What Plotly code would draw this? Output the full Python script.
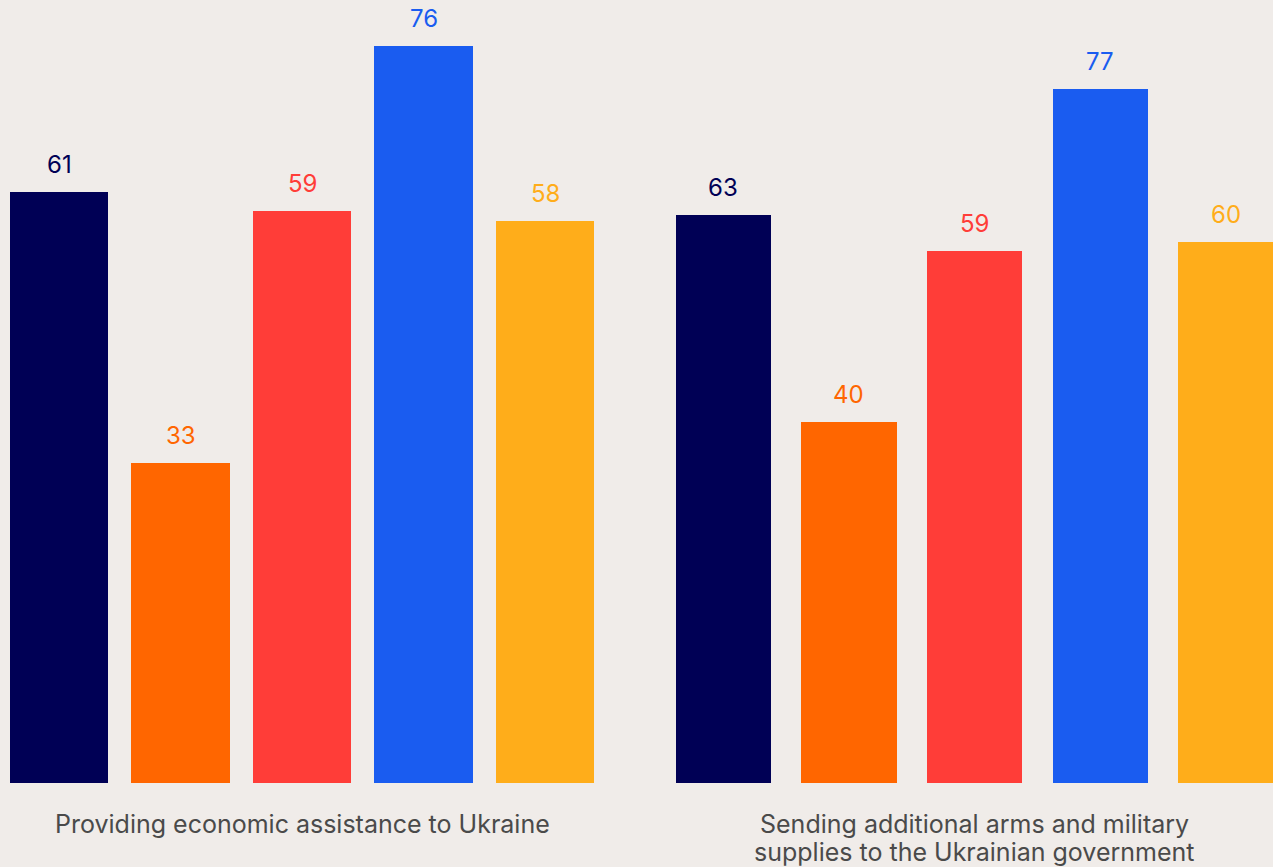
import plotly.graph_objects as go

# Share of respondents supporting each policy, by group
groups = ["Group A", "Group B", "Group C", "Group D", "Group E"]
economic_aid = [61, 33, 59, 76, 58]
military_aid = [63, 40, 59, 77, 60]
bar_colors = ["#000055", "#FF6600", "#FF3D38", "#1A5CF0", "#FFAD1A"]
panel_titles = [
    ["Providing economic assistance to Ukraine"],
    ["Sending additional arms and military",
     "supplies to the Ukrainian government"],
]

BG = "#F0ECE9"
FONT = "Inter, Lato, sans-serif"
W, H = 1273, 867
PLOT_H = 783  # height of the plotting area in pixels

fig = go.Figure()

panels = [
    (economic_aid, "x", "y", 0.807),
    (military_aid, "x2", "y2", 0.757),
]
for values, xa, ya, width in panels:
    xs = list(range(len(values)))
    fig.add_trace(go.Bar(
        x=xs, y=values, width=width,
        marker=dict(color=bar_colors, line=dict(width=0)),
        xaxis=xa, yaxis=ya, showlegend=False, hoverinfo="y",
    ))
    for i, v in enumerate(values):
        fig.add_annotation(
            x=i, y=v, xref=xa, yref=ya, text=str(v), showarrow=False,
            yanchor="bottom", yshift=11,
            font=dict(family=FONT, size=24, color=bar_colors[i]),
        )

# Panel captions below the bars, centred on the middle bar, one line each
line_px = [824, 852]
mid = (len(groups) - 1) / 2
for j, lines in enumerate(panel_titles):
    xa = "x" if j == 0 else "x2"
    for k, line in enumerate(lines):
        fig.add_annotation(
            x=mid, y=(PLOT_H - line_px[k]) / PLOT_H,
            xref=xa, yref="paper", text=line,
            showarrow=False, yanchor="middle", align="center",
            font=dict(family=FONT, size=25, color="#4A4A4A"),
        )

axis_common = dict(showgrid=False, zeroline=False, showticklabels=False,
                   showline=False, ticks="")
fig.update_layout(
    width=W, height=H,
    margin=dict(l=0, r=0, t=0, b=H - PLOT_H),
    paper_bgcolor=BG, plot_bgcolor=BG,
    xaxis=dict(domain=[0, 610 / W], range=[-0.4856, 4.535], **axis_common),
    xaxis2=dict(domain=[640 / W, 1], range=[-0.665, 4.378], **axis_common),
    yaxis=dict(range=[0, 80.77], anchor="x", **axis_common),
    yaxis2=dict(range=[0, 86.86], anchor="x2", **axis_common),
    bargap=0,
)

fig.write_html("out.html")
